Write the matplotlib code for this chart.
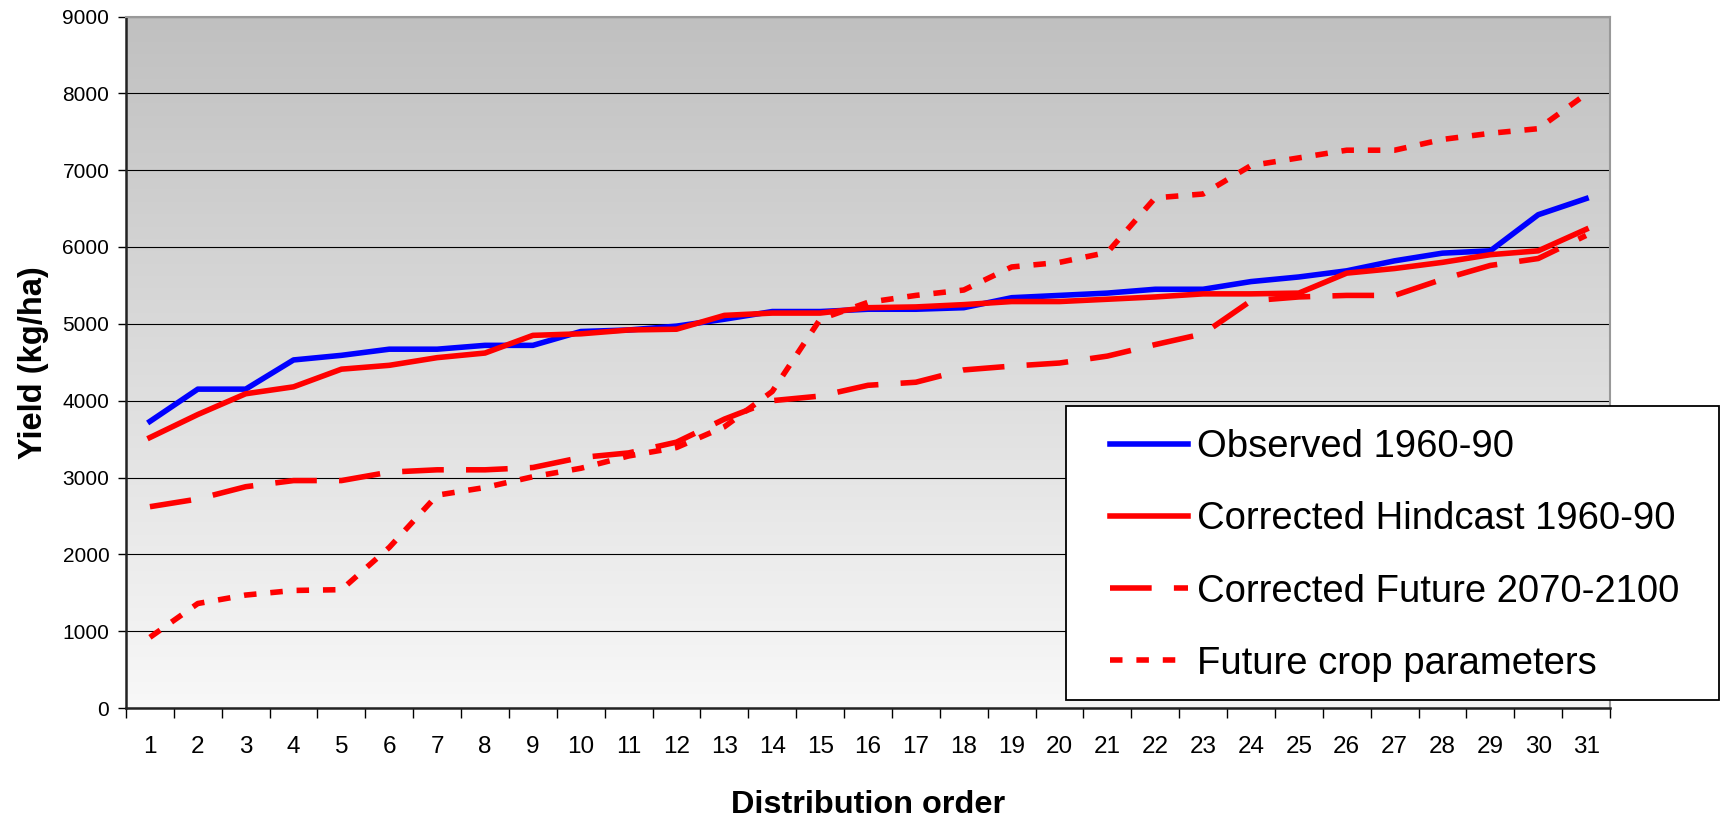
import matplotlib
matplotlib.use('Agg')
import matplotlib.pyplot as plt
import numpy as np
from matplotlib.colors import LinearSegmentedColormap
from matplotlib.patches import Rectangle

# Data
order = list(range(1, 32))
observed = [3730, 4150, 4150, 4530, 4590, 4670, 4670, 4720, 4720, 4900, 4920,
            4970, 5060, 5160, 5160, 5190, 5190, 5210, 5340, 5370, 5400, 5450,
            5450, 5550, 5610, 5690, 5820, 5920, 5950, 6420, 6630]
hindcast = [3520, 3820, 4090, 4180, 4410, 4460, 4560, 4620, 4850, 4870, 4920,
            4930, 5110, 5140, 5140, 5210, 5220, 5250, 5290, 5290, 5320, 5350,
            5390, 5390, 5400, 5660, 5720, 5800, 5900, 5950, 6230]
future = [2620, 2720, 2880, 2960, 2960, 3070, 3100, 3100, 3130, 3260, 3320,
          3460, 3760, 4000, 4060, 4200, 4240, 4400, 4450, 4490, 4580, 4730,
          4870, 5300, 5350, 5370, 5370, 5580, 5760, 5850, 6150]
crop_params = [920, 1360, 1470, 1530, 1540, 2090, 2770, 2870, 3010, 3120, 3280,
               3390, 3660, 4120, 5060, 5280, 5370, 5440, 5740, 5800, 5930, 6640,
               6690, 7060, 7160, 7260, 7260, 7400, 7480, 7540, 7990]

plt.rcParams['font.family'] = ['Liberation Sans', 'DejaVu Sans']
plt.rcParams['lines.scale_dashes'] = False

W, H = 1722, 817
fig = plt.figure(figsize=(W / 100, H / 100), dpi=100)
ax = fig.add_axes([126 / W, 1 - 708 / H, (1610 - 126) / W, (708 - 16.5) / H])

# gradient background (light at bottom, grey at top)
cmap = LinearSegmentedColormap.from_list('bg', ['#f8f8f8', '#c0c0c0'])
grad = np.linspace(0, 1, 256).reshape(-1, 1)
ax.imshow(grad, extent=[0.5, 31.5, 0, 9000], origin='lower', aspect='auto',
          cmap=cmap, zorder=0)

ax.set_xlim(0.5, 31.5)
ax.set_ylim(0, 9000)
ax.set_yticks(np.arange(0, 9001, 1000))
ax.yaxis.grid(True, color='black', linewidth=0.8)
for gl in ax.get_ygridlines():
    gl.set_zorder(1)

lw = 4.0
ax.plot(order, observed, color='#0000ff', lw=lw, label='Observed 1960-90', zorder=3)
ax.plot(order, hindcast, color='#ff0000', lw=lw, label='Corrected Hindcast 1960-90', zorder=3)
ax.plot(order, future, color='#ff0000', lw=lw, dashes=(30, 16),
        label='Corrected Future 2070-2100', zorder=3)
ax.plot(order, crop_params, color='#ff0000', lw=lw, dashes=(9, 10),
        label='Future crop parameters', zorder=3)

# category axis: ticks between categories, labels at centres
ax.set_xticks(np.arange(0.5, 32, 1))
ax.set_xticklabels([])
ax.set_xticks(order, minor=True)
ax.set_xticklabels([str(i) for i in order], minor=True, fontsize=17.5)
ax.tick_params(axis='x', which='major', length=7, width=1, direction='out')
ax.tick_params(axis='x', which='minor', length=0, pad=20)
ax.tick_params(axis='y', length=6, width=1, direction='out', labelsize=15, pad=6)

for s in ['left', 'bottom']:
    ax.spines[s].set_linewidth(1.8)
    ax.spines[s].set_color('#222222')
for s in ['top', 'right']:
    ax.spines[s].set_linewidth(1.5)
    ax.spines[s].set_color('#999999')

ax.set_ylabel('Yield (kg/ha)', fontsize=23.5, fontweight='bold', labelpad=10)
ax.set_xlabel('Distribution order', fontsize=23.4, fontweight='bold')
ax.xaxis.set_label_coords(0.5, -(790 - 708) / (708 - 16.5))

# legend box sticks out past the right edge of the plot area
box = Rectangle((1066 / W, 1 - 700 / H), (1719 - 1066) / W, (700 - 406) / H,
                transform=fig.transFigure, facecolor='white', edgecolor='black',
                linewidth=1.3, zorder=4)
fig.patches.append(box)
leg = fig.legend(loc='upper left', bbox_to_anchor=(1110 / W, 1 - 429 / H),
                 fontsize=27.5, frameon=False, handlelength=2.04,
                 handletextpad=0.24, labelspacing=0.95, borderpad=0,
                 borderaxespad=0)
leg.set_zorder(5)

fig.savefig('out.png', dpi=100)
